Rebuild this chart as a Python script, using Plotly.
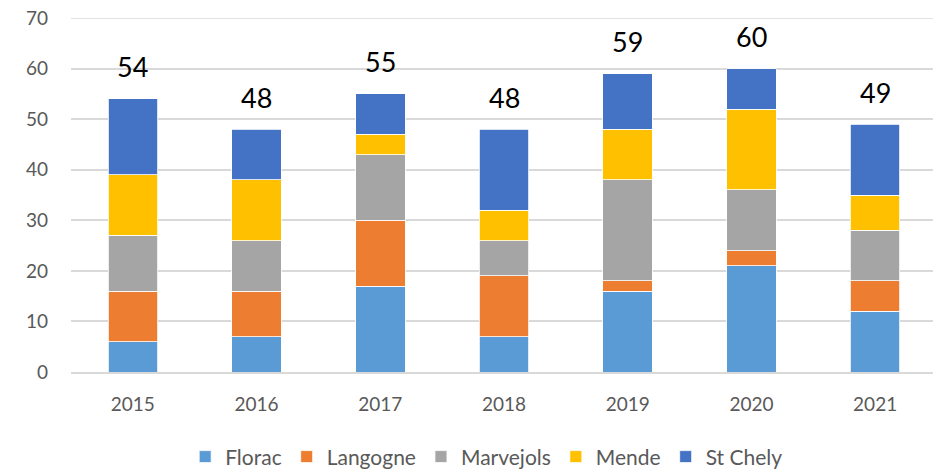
import plotly.graph_objects as go

years = ['2015', '2016', '2017', '2018', '2019', '2020', '2021']

florac = [6, 7, 17, 7, 16, 21, 12]
langogne = [10, 9, 13, 12, 2, 3, 6]
marvejols = [11, 10, 13, 7, 20, 12, 10]
mende = [12, 12, 4, 6, 10, 16, 7]
st_chely = [15, 10, 8, 16, 11, 8, 14]

series = [
    ('Florac', florac, '#5B9BD5'),
    ('Langogne', langogne, '#ED7D31'),
    ('Marvejols', marvejols, '#A5A5A5'),
    ('Mende', mende, '#FFC000'),
    ('St Chely', st_chely, '#4472C4'),
]

totals = [sum(v) for v in zip(florac, langogne, marvejols, mende, st_chely)]

FONT = 'Lato, "Open Sans", sans-serif'

fig = go.Figure()
for name, vals, color in series:
    fig.add_trace(go.Bar(
        x=years, y=vals, name=name,
        marker=dict(color=color, line=dict(color='white', width=0.8)),
    ))

# totals above each stack (x given as category index, '2015' would be read as a number)
for i, tot in enumerate(totals):
    fig.add_annotation(x=i, y=tot, text=str(tot), showarrow=False,
                       yshift=32, font=dict(size=27, color='black', family=FONT))

# page body has an 8px margin, so the figure is a bit smaller than the window
fig.update_layout(
    barmode='stack',
    bargap=0.6,
    width=933, height=461,
    margin=dict(l=63, r=4, t=10, b=97, autoexpand=False),
    plot_bgcolor='white',
    paper_bgcolor='white',
    font=dict(family=FONT, size=19, color='#595959'),
    legend=dict(orientation='h', x=0.48, xanchor='center', y=-0.24, yanchor='middle',
                font=dict(size=21, color='#595959'), traceorder='normal',
                itemwidth=30),
    showlegend=True,
)
fig.update_xaxes(type='category', range=[-0.5, 6.5], showgrid=False, showline=True,
                 linecolor='#D9D9D9', linewidth=1.5, ticks='', ticklabelstandoff=14)
# the top label sits close to the div edge, keep it drawn
fig.update_yaxes(range=[0, 70], dtick=10, ticklabeloverflow='allow',
                 showgrid=True, gridcolor='#D9D9D9',
                 gridwidth=1.5, zeroline=False, showline=False, ticks='',
                 ticklabelstandoff=22)
# plotly drops the gridline on the top edge, draw it back
fig.add_hline(y=70, line=dict(color='#D9D9D9', width=1.5), layer='below')

fig.write_html("out.html")
